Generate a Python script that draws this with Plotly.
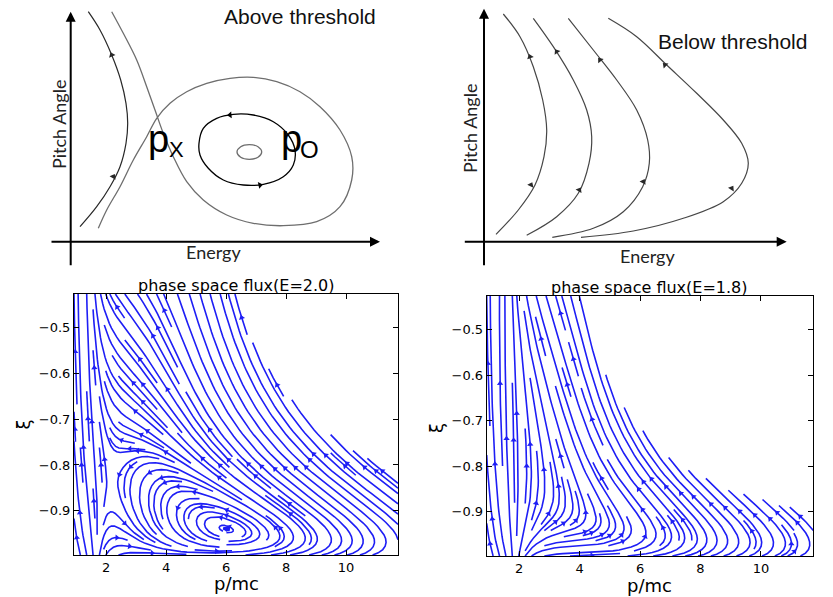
import numpy as np
import plotly.graph_objects as go

# ------------------------------------------------------------------
# Bottom panels : phase-space flux (streamlines) for two field values
# ------------------------------------------------------------------
E_FIELDS = [2.0, 1.8]
FLUX_TITLES = ["phase space flux(E=2.0)", "phase space flux(E=1.8)"]
P_LIMITS = [0.93, 11.73]
XI_LIMITS = [-0.997, -0.426]
P_TICKS = [2, 4, 6, 8, 10]
XI_TICKS = [-0.5, -0.6, -0.7, -0.8, -0.9]
XI_TICK_TEXT = ["\u22120.5", "\u22120.6", "\u22120.7", "\u22120.8", "\u22120.9"]
# extent of the populated region (perpendicular momentum limit) for each field
MASK_PPERP = [5.67, 4.26]
MASK_EXP = 0.3
# strength of the low-energy, large-pitch drag for each field
TOP_DRAG = [4.5, 3.0]
STREAM_DENSITY = 1.75

# coefficients of the flux model (drag, perpendicular gain, scattering)
DRAG_LOW_P = 2.8
PERP_DRAG = 0.22
PERP_GAIN = 0.06
Q_CENTER = 3.65
DELTA_SLOPE = 39.0
E_THRESHOLD = 1.88
R_FLOOR = 0.8
SCATTER = 0.4
TOP_DRAG_CENTER = 3.0
TOP_DRAG_WIDTH = 0.35

# ------------------------------------------------------------------
# Top panels : schematic trajectories (energy, pitch) in schematic px
# ------------------------------------------------------------------
ABOVE_LEFT_BRANCH = [(9.3, 15), (26, 35), (39.3, 55), (49.3, 75), (55.3, 98.4), (57, 118.4),
                     (55.3, 138.4), (50, 161.7), (41, 186.7), (29.3, 211.7), (17.6, 230)]
ABOVE_LEFT_ARROWS = [(41, 186.7), (42.6, 65)]
ABOVE_SEPARATRIX = [(41, 230), (52.6, 208.4), (66, 181.7), (76, 155), (84.3, 131.7), (92.6, 108.4),
                    (102.6, 85), (116, 60), (132.6, 41.7), (156, 26.7), (182.6, 18.4), (212.6, 16),
                    (246, 20), (269.3, 35), (281, 61.7), (281, 85), (269.3, 111.7), (249.3, 135),
                    (229.3, 150), (206, 160), (182.6, 164.4), (159.3, 163.4), (136, 158.4),
                    (116, 150), (99.3, 138.4), (86, 123.4), (76, 105), (62.6, 81.7), (49.3, 55),
                    (36, 31.7), (27.6, 13.4)]
ABOVE_ORBIT = [(128.3, 98.4), (132.6, 113.4), (146, 123.4), (162.6, 127.4), (182.6, 126.7),
               (202.6, 120), (217.6, 106.7), (224.3, 91.7), (222.6, 76.7), (212.6, 65),
               (192.6, 57.4), (172.6, 56.7), (152.6, 61.7), (137.6, 73.4), (129.3, 86.7),
               (128.3, 98.4)]
ABOVE_ORBIT_ARROWS = [(159.3, 126.7), (189.3, 56.7)]
ABOVE_CORE = [(166.3, 89.7), (170, 95), (178.6, 97), (187.3, 95), (191, 89.7), (187.3, 84.4),
              (178.6, 82.4), (170, 84.4), (166.3, 89.7)]

BELOW_CURVES = [
    [(12, 7.4), (34.3, 31.7), (51, 56.7), (60, 85), (62.7, 111.7), (58.7, 141.7), (49.3, 175),
     (36, 205), (19.3, 227.7)],
    [(42.7, 6.4), (72.7, 25), (94.3, 48.4), (105, 78.4), (107.7, 105), (102.7, 131.7),
     (89.3, 161.7), (69.3, 195), (49.3, 223.4)],
    [(68.3, 4.4), (109.3, 13.4), (139.3, 30), (158.7, 55), (165.3, 78.4), (163.7, 101.7),
     (152.7, 131.7), (132.7, 161.7), (109.3, 191.7), (84.3, 223.4)],
    [(97, 4.4), (149.3, 10.7), (199.3, 23.4), (239.3, 40), (257.7, 58.4), (264.3, 78.4),
     (257.7, 98.4), (239.3, 121.7), (212.7, 148.4), (182.7, 176.7), (152.7, 205), (124.3, 223.4)],
]
BELOW_ARROWS = [[(47, 56.7), (46, 185)], [(95.3, 51.7), (72.7, 190)],
                [(159.3, 60), (116, 181.7)], [(247.7, 53.4), (181, 176.7)]]


# ------------------------------------------------------------------
def flux(p, xi, E, r_lim, top_drag):
    u = -xi
    w = 1.0 - xi ** 2
    sw = np.sqrt(w)
    q = p * u
    r = p * sw
    P = E - 1.0 - DRAG_LOW_P / p ** 2 - PERP_DRAG * r ** 2
    g = r ** 2 / (r ** 2 + R_FLOOR ** 2)
    R = PERP_GAIN * ((q - Q_CENTER) ** 2 - DELTA_SLOPE * (E - E_THRESHOLD) * g)
    S = SCATTER / p ** 4
    D = top_drag * w ** 3 * np.exp(-np.log(p / TOP_DRAG_CENTER) ** 2 / (2 * TOP_DRAG_WIDTH ** 2))
    Fp = u * P + sw * R - D
    Fxi = -P * w / p + u * sw * R / p + S * u
    empty = r > r_lim * (p / 6.0) ** MASK_EXP
    Fp = np.where(empty, np.nan, Fp)
    Fxi = np.where(empty, np.nan, Fxi)
    return Fp, Fxi


class _OOB(Exception):
    pass


class _Stop(Exception):
    pass


def _spiral(nx, ny):
    xfirst, yfirst, xlast, ylast = 0, 1, nx - 1, ny - 1
    x, y = 0, 0
    d = 'right'
    for _ in range(nx * ny):
        yield x, y
        if d == 'right':
            x += 1
            if x >= xlast:
                xlast -= 1
                d = 'up'
        elif d == 'up':
            y += 1
            if y >= ylast:
                ylast -= 1
                d = 'left'
        elif d == 'left':
            x -= 1
            if x <= xfirst:
                xfirst += 1
                d = 'down'
        else:
            y -= 1
            if y <= yfirst:
                yfirst += 1
                d = 'right'


def stream_trajectories(xv, yv, U, V, density=1.0, minlength=0.1, maxlength=4.0):
    ny, nx = U.shape
    dxg = xv[1] - xv[0]
    dyg = yv[1] - yv[0]
    mnx = mny = int(30 * density)
    mask = np.zeros((mny, mnx), dtype=int)
    gx2m = (mnx - 1) / (nx - 1)
    gy2m = (mny - 1) / (ny - 1)
    ug = U / dxg
    vg = V / dyg
    speed = np.hypot(ug / (nx - 1), vg / (ny - 1))
    st = {"traj": [], "cur": None}

    def inside(xi, yi):
        return 0 <= xi <= nx - 1 and 0 <= yi <= ny - 1

    def interp(a, xi, yi):
        x = int(xi)
        y = int(yi)
        xn = x if x >= nx - 1 else x + 1
        yn = y if y >= ny - 1 else y + 1
        xt = xi - x
        yt = yi - y
        a0 = a[y, x] * (1 - xt) + a[y, xn] * xt
        a1 = a[yn, x] * (1 - xt) + a[yn, xn] * xt
        return a0 * (1 - yt) + a1 * yt

    def to_mask(xi, yi):
        return int(xi * gx2m + 0.5), int(yi * gy2m + 0.5)

    def mark(xi, yi):
        if not inside(xi, yi):
            raise _OOB
        xm, ym = to_mask(xi, yi)
        if st["cur"] != (xm, ym):
            if mask[ym, xm] == 0:
                st["traj"].append((ym, xm))
                mask[ym, xm] = 1
                st["cur"] = (xm, ym)
            else:
                raise _Stop

    def vel(xi, yi, sgn):
        if not inside(xi, yi):
            raise _OOB
        sp = interp(speed, xi, yi)
        if not np.isfinite(sp) or sp == 0:
            raise _Stop
        return sgn * interp(ug, xi, yi) / sp, sgn * interp(vg, xi, yi) / sp

    def euler(traj, sgn):
        xi, yi = traj[-1]
        try:
            cx, cy = vel(xi, yi, sgn)
        except (_OOB, _Stop):
            return 0.0
        dsx = np.inf if cx == 0 else (xi / -cx if cx < 0 else (nx - 1 - xi) / cx)
        dsy = np.inf if cy == 0 else (yi / -cy if cy < 0 else (ny - 1 - yi) / cy)
        ds = min(dsx, dsy)
        traj.append((xi + cx * ds, yi + cy * ds))
        return ds

    def rk12(x0, y0, sgn):
        maxerr = 0.003
        maxds = min(1.0 / mnx, 1.0 / mny, 0.1)
        ds = maxds
        stot = 0.0
        xi, yi = x0, y0
        traj = []
        while True:
            try:
                if inside(xi, yi):
                    traj.append((xi, yi))
                else:
                    raise _OOB
                k1x, k1y = vel(xi, yi, sgn)
                k2x, k2y = vel(xi + ds * k1x, yi + ds * k1y, sgn)
            except _OOB:
                if traj:
                    stot += euler(traj, sgn)
                break
            except _Stop:
                break
            dx1, dy1 = ds * k1x, ds * k1y
            dx2, dy2 = ds * 0.5 * (k1x + k2x), ds * 0.5 * (k1y + k2y)
            err = np.hypot((dx2 - dx1) / (nx - 1), (dy2 - dy1) / (ny - 1))
            if err < maxerr:
                xi += dx2
                yi += dy2
                try:
                    mark(xi, yi)
                except (_OOB, _Stop):
                    break
                if stot + ds > maxlength:
                    break
                stot += ds
            ds = maxds if err == 0 else min(maxds, 0.85 * ds * (maxerr / err) ** 0.5)
        return stot, traj

    out = []
    for xm, ym in _spiral(mnx, mny):
        if mask[ym, xm] == 0:
            xg, yg = xm / gx2m, ym / gy2m
            st["traj"] = []
            st["cur"] = None
            try:
                mark(xg, yg)
            except (_OOB, _Stop):
                continue
            sb, tb = rk12(xg, yg, -1)
            st["cur"] = to_mask(xg, yg)
            sf, tf = rk12(xg, yg, 1)
            traj = tb[::-1] + tf[1:]
            if sb + sf > minlength:
                out.append(traj)
            else:
                for (a, b) in st["traj"]:
                    mask[a, b] = 0
    xs, ys = [], []
    for t in out:
        arr = np.array(t)
        xs.append(xv[0] + arr[:, 0] * dxg)
        ys.append(yv[0] + arr[:, 1] * dyg)
    return xs, ys


# ------------------------------------------------------------------
W, H = 833, 597
PANELS = [
    dict(xdom=[74, 398], ydom=[294, 555]),
    dict(xdom=[486.7, 813.3], ydom=[296, 556]),
]
LINE_BLUE = "rgb(30,30,245)"

fig = go.Figure()
annotations = []

pv = np.linspace(P_LIMITS[0], P_LIMITS[1], 100)
xv = np.linspace(XI_LIMITS[0], XI_LIMITS[1], 100)
PP, XX = np.meshgrid(pv, xv)

for k, E in enumerate(E_FIELDS):
    U, V = flux(PP, XX, E, MASK_PPERP[k], TOP_DRAG[k])
    txs, tys = stream_trajectories(pv, xv, U, V, density=STREAM_DENSITY)
    pan = PANELS[k]
    sx = (pan["xdom"][1] - pan["xdom"][0]) / (P_LIMITS[1] - P_LIMITS[0])
    sy = (pan["ydom"][1] - pan["ydom"][0]) / (XI_LIMITS[1] - XI_LIMITS[0])
    lx, ly, ax_, ay_, ang = [], [], [], [], []
    for tx, ty in zip(txs, tys):
        if len(tx) < 2:
            continue
        lx += list(tx) + [None]
        ly += list(ty) + [None]
        s = np.cumsum(np.hypot(np.diff(tx), np.diff(ty)))
        n = int(np.searchsorted(s, s[-1] / 2.0))
        n = min(n, len(tx) - 2)
        hx, hy = np.mean(tx[n:n + 2]), np.mean(ty[n:n + 2])
        ddx, ddy = hx - tx[n], hy - ty[n]
        ax_.append(hx)
        ay_.append(hy)
        ang.append(float(np.degrees(np.arctan2(ddx * sx, ddy * sy))))
    xa = "x" if k == 0 else "x2"
    ya = "y" if k == 0 else "y2"
    fig.add_trace(go.Scatter(x=lx, y=ly, mode="lines", xaxis=xa, yaxis=ya,
                             line=dict(color=LINE_BLUE, width=1.6), hoverinfo="skip",
                             showlegend=False))
    fig.add_trace(go.Scatter(x=ax_, y=ay_, mode="markers", xaxis=xa, yaxis=ya,
                             marker=dict(symbol="triangle-up", size=5.5, angle=ang,
                                         color=LINE_BLUE, line=dict(width=0)),
                             hoverinfo="skip", showlegend=False))


# ---------------- schematic panels ----------------
def arrow_markers(curve, pts, sign=1):
    cx = np.array([c[0] for c in curve], dtype=float)
    cy = np.array([c[1] for c in curve], dtype=float)
    xs, ys, angs = [], [], []
    for (px_, py_) in pts:
        i = int(np.argmin((cx - px_) ** 2 + (cy - py_) ** 2))
        i0, i1 = max(i - 1, 0), min(i + 1, len(cx) - 1)
        dx, dy = (cx[i1] - cx[i0]) * sign, (cy[i1] - cy[i0]) * sign
        xs.append(px_)
        ys.append(py_)
        angs.append(float(np.degrees(np.arctan2(dx, dy))))
    return xs, ys, angs


def add_curve(curve, color, width, xa, ya):
    fig.add_trace(go.Scatter(x=[c[0] for c in curve], y=[c[1] for c in curve], mode="lines",
                             line=dict(color=color, width=width, shape="spline", smoothing=1.0),
                             xaxis=xa, yaxis=ya, hoverinfo="skip", showlegend=False))


def add_arrows(curve, pts, color, xa, ya, sign=1):
    xs, ys, angs = arrow_markers(curve, pts, sign)
    fig.add_trace(go.Scatter(x=xs, y=ys, mode="markers", xaxis=xa, yaxis=ya,
                             marker=dict(symbol="triangle-up", size=6, angle=angs, color=color,
                                         line=dict(width=0)),
                             hoverinfo="skip", showlegend=False))


GRAY = "rgb(110,110,110)"
DARK = "rgb(40,40,40)"
add_curve(ABOVE_SEPARATRIX, GRAY, 1.3, "x3", "y3")
add_curve(ABOVE_LEFT_BRANCH, DARK, 1.2, "x3", "y3")
add_arrows(ABOVE_LEFT_BRANCH, ABOVE_LEFT_ARROWS, DARK, "x3", "y3")
add_curve(ABOVE_ORBIT, "black", 1.3, "x3", "y3")
add_arrows(ABOVE_ORBIT, ABOVE_ORBIT_ARROWS, "black", "x3", "y3", sign=-1)
add_curve(ABOVE_CORE, GRAY, 1.3, "x3", "y3")
for cur, arr in zip(BELOW_CURVES, BELOW_ARROWS):
    add_curve(cur, "rgb(70,70,70)", 1.2, "x4", "y4")
    add_arrows(cur, arr, DARK, "x4", "y4")

SCH_FONT = "Lato, Open Sans, sans-serif"
for xr, yr, xmin, xmax, ytop in [("x3", "y3", -20.7, 309.3, 230), ("x4", "y4", -20.7, 302.7, 233)]:
    annotations.append(dict(x=0, y=ytop, ax=0, ay=-25, xref=xr, yref=yr, axref=xr, ayref=yr,
                            showarrow=True, arrowhead=2, arrowsize=1, arrowwidth=2,
                            arrowcolor="black", text=""))
    annotations.append(dict(x=xmax, y=0, ax=xmin, ay=0, xref=xr, yref=yr, axref=xr, ayref=yr,
                            showarrow=True, arrowhead=2, arrowsize=1, arrowwidth=2,
                            arrowcolor="black", text=""))


def txt(text, x, y, xr, yr, size, family, angle=0, color="black"):
    annotations.append(dict(text=text, x=x, y=y, xref=xr, yref=yr, showarrow=False,
                            font=dict(size=size, family=family, color=color), textangle=angle,
                            xanchor="center", yanchor="middle"))


ARIAL = "Liberation Sans, Arial, sans-serif"
txt("Above threshold", 229.3, 225.7, "x3", "y3", 21, ARIAL, color="#111")
txt("Below threshold", 248, 200.7, "x4", "y4", 21, ARIAL, color="#111")
txt("Pitch Angle", -11.7, 116.7, "x3", "y3", 18, SCH_FONT, angle=-90, color="#222")
txt("Pitch Angle", -14, 112.7, "x4", "y4", 18, SCH_FONT, angle=-90, color="#222")
txt("Energy", 142.3, -10.6, "x3", "y3", 18, SCH_FONT, color="#222")
txt("Energy", 163, -14.1, "x4", "y4", 18, SCH_FONT, color="#222")
txt("p", 87.3, 102.3, "x3", "y3", 38, ARIAL)
txt("X", 105.3, 92.4, "x3", "y3", 22, ARIAL)
txt("p", 220.8, 102.3, "x3", "y3", 38, ARIAL)
txt("O", 238.3, 92.1, "x3", "y3", 24, ARIAL)

# bottom titles and labels (paper coordinates from pixel positions)
MPL_FONT = "DejaVu Sans, sans-serif"
for text, cx, cy, size, angle in [
    (FLUX_TITLES[0], 236.7, 285, 16, 0), (FLUX_TITLES[1], 649, 287, 16, 0),
    ("p/mc", 236.7, 583.5, 18, 0), ("p/mc", 649, 585.6, 18, 0),
    ("\u03be", 22.5, 425, 18, -90), ("\u03be", 436, 428, 18, -90)]:
    annotations.append(dict(text=text, x=cx / W, y=1 - cy / H, xref="paper", yref="paper",
                            showarrow=False, font=dict(size=size, family=MPL_FONT, color="black"),
                            textangle=angle, xanchor="center", yanchor="middle"))


def bottom_axes(pan):
    xd = [pan["xdom"][0] / W, pan["xdom"][1] / W]
    yd = [1 - pan["ydom"][1] / H, 1 - pan["ydom"][0] / H]
    common = dict(showline=True, linecolor="black", linewidth=1, mirror="allticks",
                  ticks="inside", ticklen=5, tickwidth=1, tickcolor="black", showgrid=False,
                  zeroline=False, tickfont=dict(size=13, family=MPL_FONT, color="black"))
    xa = dict(domain=xd, range=P_LIMITS, tickvals=P_TICKS, **common)
    ya = dict(domain=yd, range=XI_LIMITS, tickvals=XI_TICKS, ticktext=XI_TICK_TEXT, **common)
    return xa, ya


xa1, ya1 = bottom_axes(PANELS[0])
xa2, ya2 = bottom_axes(PANELS[1])
sch_y = dict(domain=[1 - 290 / H, 1], range=[-48.3, 241.7], visible=False, fixedrange=True)

fig.update_layout(
    width=W, height=H, autosize=False,
    margin=dict(l=0, r=0, t=0, b=0),
    paper_bgcolor="white", plot_bgcolor="white",
    xaxis=dict(anchor="y", **xa1), yaxis=dict(anchor="x", **ya1),
    xaxis2=dict(anchor="y2", **xa2), yaxis2=dict(anchor="x2", **ya2),
    xaxis3=dict(domain=[0, 420 / W], range=[-70.7, 349.3], visible=False, anchor="y3"),
    yaxis3=dict(anchor="x3", **sch_y),
    xaxis4=dict(domain=[420 / W, 1], range=[-64, 349], visible=False, anchor="y4"),
    yaxis4=dict(anchor="x4", **sch_y),
    annotations=annotations,
    showlegend=False,
)

fig.write_html("out.html", config={"displayModeBar": False},
               post_script="document.body.style.margin='0px';")
